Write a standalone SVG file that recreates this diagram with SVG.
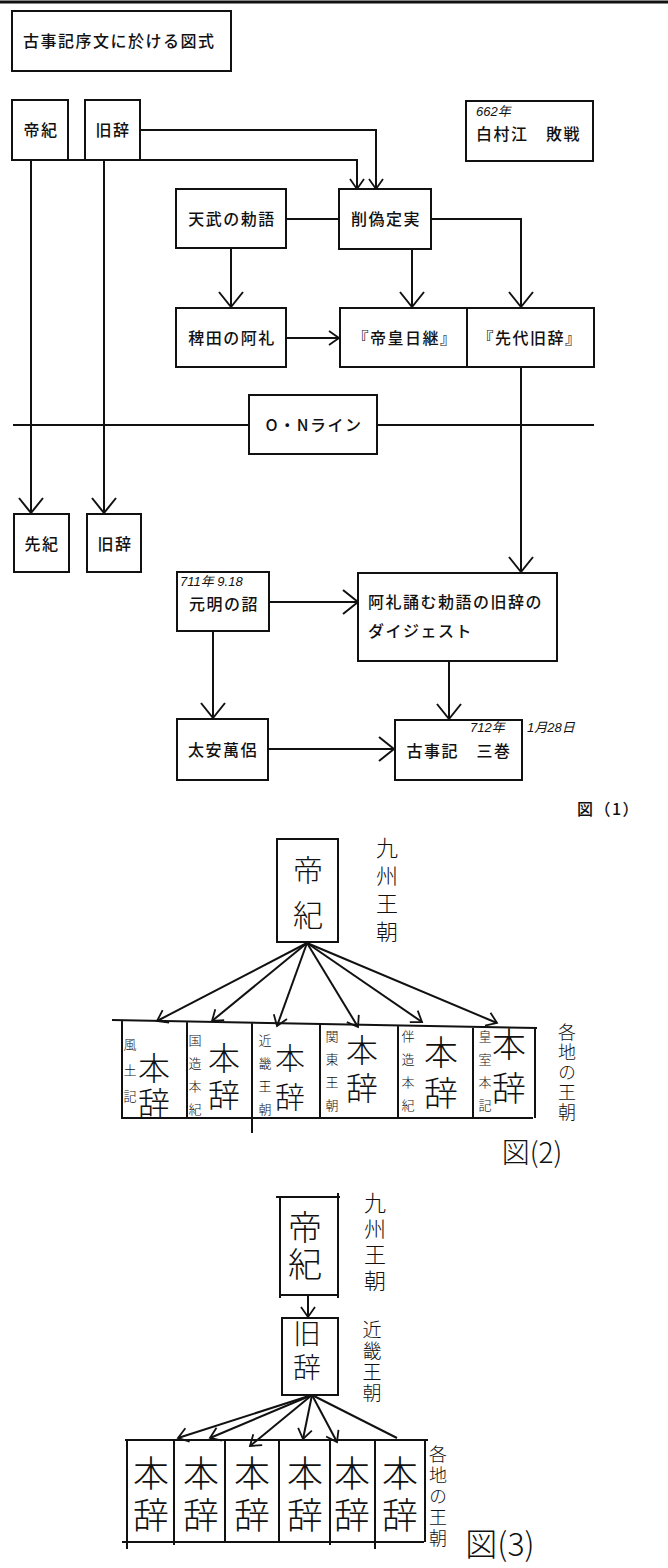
<svg xmlns="http://www.w3.org/2000/svg" width="668" height="1568" viewBox="0 0 668 1568">
<style>
.b{fill:#fff;stroke:#111;stroke-width:2}
.l{fill:none;stroke:#111;stroke-width:2}
.t{font-family:"Noto Sans CJK JP","Noto Sans",sans-serif;font-size:16px;fill:#111;letter-spacing:1.5px;font-weight:500}
.c{text-anchor:middle}
.n{font-family:"Liberation Sans","Noto Sans CJK JP",sans-serif;font-style:italic;font-size:13px;fill:#111}
.w{font-family:"Noto Sans CJK JP",sans-serif;fill:#111;text-anchor:middle;font-weight:300}
.v{font-family:"Noto Sans CJK JP",sans-serif;fill:#111;font-weight:300;writing-mode:vertical-rl;text-anchor:start}
</style>
<defs>
<marker id="a" markerUnits="userSpaceOnUse" markerWidth="40" markerHeight="40" refX="0" refY="0" orient="auto" viewBox="-20 -20 40 40" overflow="visible">
<path d="M-15,-12 L0,0 L-15,12" fill="none" stroke="#111" stroke-width="2"/>
</marker>
<marker id="s" markerUnits="userSpaceOnUse" markerWidth="30" markerHeight="30" refX="0" refY="0" orient="auto" viewBox="-15 -15 30 30" overflow="visible">
<path d="M-10,-7 L0,0 L-10,7" fill="none" stroke="#111" stroke-width="1.8"/>
</marker>
</defs>
<rect width="668" height="1568" fill="#fff"/>
<line x1="0" y1="2" x2="668" y2="2" stroke="#111" stroke-width="3"/>

<g id="connectors">
<path class="l" d="M68,160 H357 V189" marker-end="url(#s)"/>
<path class="l" d="M140,130 H376 V189" marker-end="url(#s)"/>
<path class="l" d="M31,160 V513" marker-end="url(#a)"/>
<path class="l" d="M104,160 V513" marker-end="url(#a)"/>
<path class="l" d="M286,219 H339"/>
<path class="l" d="M431,219 H521 V307" marker-end="url(#a)"/>
<path class="l" d="M412,249 V307" marker-end="url(#a)"/>
<path class="l" d="M231,248 V307" marker-end="url(#a)"/>
<path class="l" d="M286,338 H339" marker-end="url(#s)"/>
<path class="l" d="M13,425 H249 M377,425 H594"/>
<path class="l" d="M521,367 V572" marker-end="url(#a)"/>
<path class="l" d="M269,602 H358" marker-end="url(#a)"/>
<path class="l" d="M213,631 V718" marker-end="url(#a)"/>
<path class="l" d="M449,661 V719" marker-end="url(#a)"/>
<path class="l" d="M268,749 H394" marker-end="url(#a)"/>
<!-- fig 2 -->
<path class="l" d="M307,943 L157,1021" marker-end="url(#s)"/>
<path class="l" d="M307,943 L212,1021" marker-end="url(#s)"/>
<path class="l" d="M307,943 L277,1026" marker-end="url(#s)"/>
<path class="l" d="M307,943 L358,1027" marker-end="url(#s)"/>
<path class="l" d="M307,943 L422,1022" marker-end="url(#s)"/>
<path class="l" d="M307,943 L497,1023" marker-end="url(#s)"/>
<!-- fig 3 -->
<path class="l" d="M308,1295 V1317" marker-end="url(#s)"/>
<path class="l" d="M312,1395 L178,1438" marker-end="url(#s)"/>
<path class="l" d="M312,1395 L210,1438" marker-end="url(#s)"/>
<path class="l" d="M312,1395 L250,1446" marker-end="url(#s)"/>
<path class="l" d="M312,1395 L303,1439" marker-end="url(#s)"/>
<path class="l" d="M312,1395 L337,1442" marker-end="url(#s)"/>
<path class="l" d="M312,1395 L397,1438"/>
</g>

<g id="title"><rect class="b" x="12" y="11" width="219" height="60"/><text class="t" x="23" y="47">古事記序文に於ける図式</text></g>
<g id="teiki"><rect class="b" x="12" y="100" width="56" height="60"/><text class="t c" x="41" y="136">帝紀</text></g>
<g id="kyuji"><rect class="b" x="85" y="100" width="55" height="60"/><text class="t c" x="113" y="136">旧辞</text></g>
<g id="hakusonko"><rect class="b" x="466" y="101" width="127" height="60"/><text class="n" x="476" y="116">662年</text><text class="t" x="476" y="140">白村江　敗戦</text></g>
<g id="tenmu"><rect class="b" x="176" y="189" width="110" height="59"/><text class="t c" x="232" y="225">天武の勅語</text></g>
<g id="sakugi"><rect class="b" x="339" y="189" width="92" height="60"/><text class="t c" x="386" y="225">削偽定実</text></g>
<g id="hieda"><rect class="b" x="176" y="308" width="110" height="59"/><text class="t c" x="232" y="344">稗田の阿礼</text></g>
<g id="teiou"><rect class="b" x="340" y="308" width="127" height="59"/><text class="t c" x="405" y="344">『帝皇日継』</text></g>
<g id="sendai"><rect class="b" x="467" y="308" width="127" height="59"/><text class="t c" x="530" y="344">『先代旧辞』</text></g>
<g id="online"><rect class="b" x="249" y="395" width="128" height="59"/><text class="t c" x="314" y="431">O・Nライン</text></g>
<g id="senki"><rect class="b" x="14" y="514" width="55" height="58"/><text class="t c" x="42" y="550">先紀</text></g>
<g id="kyuji2"><rect class="b" x="87" y="514" width="54" height="58"/><text class="t c" x="115" y="550">旧辞</text></g>
<g id="genmei"><rect class="b" x="177" y="572" width="92" height="59"/><text class="n" x="180" y="586" font-size="12">711年 9.18</text><text class="t c" x="224" y="610">元明の詔</text></g>
<g id="digest"><rect class="b" x="358" y="573" width="199" height="88"/><text class="t" x="368" y="608">阿礼誦む勅語の旧辞の</text><text class="t" x="368" y="637" letter-spacing="1px">ダイジェスト</text></g>
<g id="oono"><rect class="b" x="177" y="719" width="91" height="61"/><text class="t c" x="223" y="756">太安萬侶</text></g>
<g id="kojiki"><rect class="b" x="395" y="720" width="127" height="60"/><text class="t c" x="459" y="757">古事記　三巻</text><text class="n" x="470" y="732">712年</text><text class="n" x="527" y="732">1月28日</text></g>
<text class="t" x="577" y="815" font-size="14">図（1）</text>

<!-- figure 2 -->
<g id="f2-teiki"><rect class="l" x="277" y="839" width="61" height="103"/><text class="v" x="308" y="855" font-size="30" letter-spacing="15">帝紀</text></g>
<text class="v" x="387" y="837" font-size="22" letter-spacing="6">九州王朝</text>
<g id="f2-table">
<path class="l" d="M112,1020 L537,1028 M121,1118 H533 M122,1020 V1118 M187,1021 V1118 M252,1022 V1133 M320,1023 V1118 M398,1025 V1118 M473,1026 V1118 M535,1028 V1118"/>
<text class="v" x="130" y="1038" font-size="13" letter-spacing="13">風土記</text>
<text class="v" x="154" y="1052" font-size="32" letter-spacing="3">本辞</text>
<text class="v" x="195" y="1034" font-size="13" letter-spacing="10">国造本紀</text>
<text class="v" x="224" y="1042" font-size="32" letter-spacing="5">本辞</text>
<text class="v" x="265" y="1034" font-size="13" letter-spacing="10">近畿王朝</text>
<text class="v" x="290" y="1043" font-size="30" letter-spacing="9">本辞</text>
<text class="v" x="332" y="1030" font-size="13" letter-spacing="10">関東王朝</text>
<text class="v" x="362" y="1034" font-size="32" letter-spacing="6">本辞</text>
<text class="v" x="408" y="1030" font-size="13" letter-spacing="10">伴造本紀</text>
<text class="v" x="441" y="1035" font-size="34" letter-spacing="7">本辞</text>
<text class="v" x="485" y="1030" font-size="13" letter-spacing="10">皇室本記</text>
<text class="v" x="509" y="1027" font-size="34" letter-spacing="10">本辞</text>
</g>
<text class="v" x="567" y="1023" font-size="18" letter-spacing="2">各地の王朝</text>
<text class="w" font-size="28" x="532" y="1163">図(2)</text>

<!-- figure 3 -->
<g id="f3-teiki"><path class="l" d="M276,1197 H340 M280,1197 V1298 M338,1193 V1298 M280,1295 H338"/><text class="v" x="305" y="1210" font-size="34" letter-spacing="3">帝紀</text></g>
<text class="v" x="375" y="1192" font-size="22" letter-spacing="4">九州王朝</text>
<g id="f3-kyuji"><rect class="l" x="282" y="1318" width="56" height="77"/><text class="v" x="307" y="1319" font-size="28" letter-spacing="6">旧辞</text></g>
<text class="v" x="372" y="1320" font-size="19" letter-spacing="2">近畿王朝</text>
<g id="f3-table">
<path class="l" d="M125,1440 H428 M122,1542 H424 M127,1440 V1549 M174,1440 V1545 M225,1440 V1542 M279,1440 V1542 M330,1440 V1545 M375,1440 V1549 M425,1440 V1542"/>
<text class="v" x="151" y="1455" font-size="36" letter-spacing="6">本辞</text>
<text class="v" x="201" y="1455" font-size="36" letter-spacing="6">本辞</text>
<text class="v" x="252" y="1455" font-size="36" letter-spacing="6">本辞</text>
<text class="v" x="305" y="1455" font-size="36" letter-spacing="6">本辞</text>
<text class="v" x="352" y="1455" font-size="36" letter-spacing="6">本辞</text>
<text class="v" x="400" y="1455" font-size="36" letter-spacing="6">本辞</text>
</g>
<text class="v" x="438" y="1445" font-size="18" letter-spacing="3">各地の王朝</text>
<text class="w" font-size="32" x="500" y="1556">図(3)</text>
</svg>
